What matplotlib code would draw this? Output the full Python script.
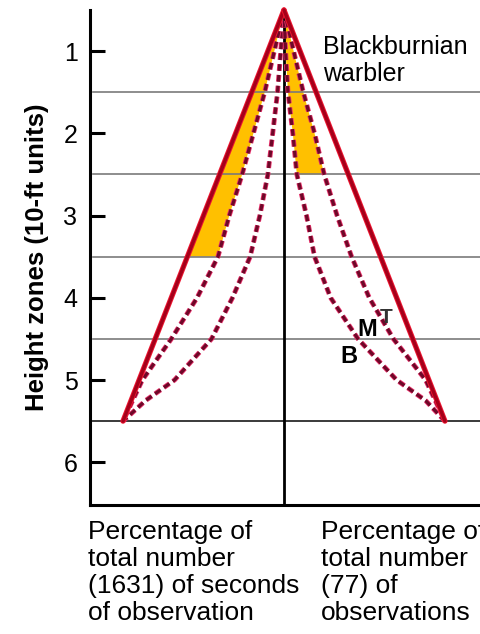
import matplotlib as mpl

mpl.use("Agg")

import matplotlib.patheffects as pe
import matplotlib.pyplot as plt
import numpy as np

IMAGE_DPI = 100.0
WIDTH = 481
HEIGHT = 634

# height zones (10-ft units), top of tree = 0.5
heights = [0.5, 1.0, 1.5, 2.0, 2.5, 3.0, 3.5, 4.0, 4.5, 5.0, 5.25, 5.5]

# cumulative percentage of seconds of observation (left half)
seconds_t = [0, 10, 20, 30, 40, 50, 60, 70, 80, 90, 95, 100]
seconds_m = [0, 6, 12, 19, 26, 34, 41, 54, 70, 88, 94, 100]
seconds_b = [0, 2, 4, 7, 10, 15, 21, 32, 45, 68, 86, 100]

# cumulative percentage of observations (right half)
obs_t = [0, 10, 20, 30, 40, 50, 60, 70, 80, 90, 95, 100]
obs_m = [0, 6, 12, 19, 25, 33, 42, 53, 68, 88, 94, 100]
obs_b = [0, 1, 2.5, 5.5, 8, 14, 19, 29, 46, 70, 88, 100]

zone_bounds = [1.5, 2.5, 3.5, 4.5, 5.5]
yticks = [1, 2, 3, 4, 5, 6]

seconds_fill_top = 3.5
obs_fill_top = 2.5

FONT = "Liberation Sans"
SOLID_COLOR = "#a5001a"
SOLID_HALO = "#ee1530"
DASH_COLOR = "#6e0828"
DASH_HALO = "#e8306a"
FILL_COLOR = "#ffc000"


def draw_curve(ax, x, y, solid):
    if solid:
        ax.plot(x, y, color=SOLID_COLOR, linewidth=2.4, solid_capstyle="round",
                solid_joinstyle="round", clip_on=False, zorder=5,
                path_effects=[pe.Stroke(linewidth=3.8, foreground=SOLID_HALO), pe.Normal()])
    else:
        ax.plot(x, y, color=DASH_COLOR, linewidth=2.3, dashes=(2.1, 1.3),
                clip_on=False, zorder=4,
                path_effects=[pe.Stroke(linewidth=3.5, foreground=DASH_HALO), pe.Normal()])


plt.rcParams["font.family"] = [FONT, "DejaVu Sans"]

fig = plt.figure(facecolor="white")
fig.set_size_inches(WIDTH / IMAGE_DPI, HEIGHT / IMAGE_DPI)

ax = fig.add_axes([90 / WIDTH, 1 - 505 / HEIGHT, 1 - 90 / WIDTH, (505 - 10) / HEIGHT])
ax.set_xlim(-120.5, 122.4)
ax.set_ylim(6.52, 0.5)

h = np.array(heights)
left_t = -np.array(seconds_t)
left_m = -np.array(seconds_m)
left_b = -np.array(seconds_b)
right_t = np.array(obs_t)
right_m = np.array(obs_m)
right_b = np.array(obs_b)

ax.fill_betweenx(h, left_t, left_m, where=h <= seconds_fill_top,
                 facecolor=FILL_COLOR, edgecolor="none", zorder=1)
ax.fill_betweenx(h, right_b, right_m, where=h <= obs_fill_top,
                 facecolor=FILL_COLOR, edgecolor="none", zorder=1)

for y in zone_bounds:
    dark = y == zone_bounds[-1]
    ax.axhline(y, xmin=0.008, xmax=1, color="#3a3a3a" if dark else "#7a7a7a",
               linewidth=1.4 if dark else 1.2, zorder=2)

ax.plot([0, 0], [0.5, 6.52], color="black", linewidth=2.0, clip_on=False, zorder=3)

for x, solid in [(left_b, False), (left_m, False), (left_t, True)]:
    draw_curve(ax, x, h, solid)
for x, solid in [(right_b, False), (right_m, False), (right_t, True)]:
    draw_curve(ax, x, h, solid)

ax.text(51.5, 4.38, "M", fontsize=17, fontweight="bold", ha="center", va="center", zorder=6)
ax.text(63.5, 4.24, "T", fontsize=15, fontweight="bold", ha="center", va="center",
        color="#333333", zorder=6)
ax.text(40.5, 4.72, "B", fontsize=17, fontweight="bold", ha="center", va="center", zorder=6)

ax.text(24, 0.8, "Blackburnian\nwarbler", fontsize=18, ha="left", va="top",
        linespacing=1.2)

ax.set_yticks(yticks)
ax.set_xticks([])
ax.tick_params(axis="y", direction="in", length=11, width=2.2, pad=9, labelsize=18)

ax.spines["right"].set_visible(False)
ax.spines["top"].set_visible(False)
ax.spines["left"].set_linewidth(2.2)
ax.spines["bottom"].set_linewidth(2.2)

fig.text(37 / WIDTH, 1 - 257 / HEIGHT, "Height zones (10-ft units)", rotation=90,
         fontsize=18.5, fontweight="bold", ha="center", va="center")

fig.text(88 / WIDTH, 1 - 520 / HEIGHT,
         "Percentage of\ntotal number\n(1631) of seconds\nof observation",
         fontsize=19, ha="left", va="top", linespacing=1.15)
fig.text(321 / WIDTH, 1 - 520 / HEIGHT,
         "Percentage of\ntotal number\n(77) of\nobservations",
         fontsize=19, ha="left", va="top", linespacing=1.15)

fig.savefig("out.png", dpi=IMAGE_DPI, facecolor="white")
plt.close(fig)
